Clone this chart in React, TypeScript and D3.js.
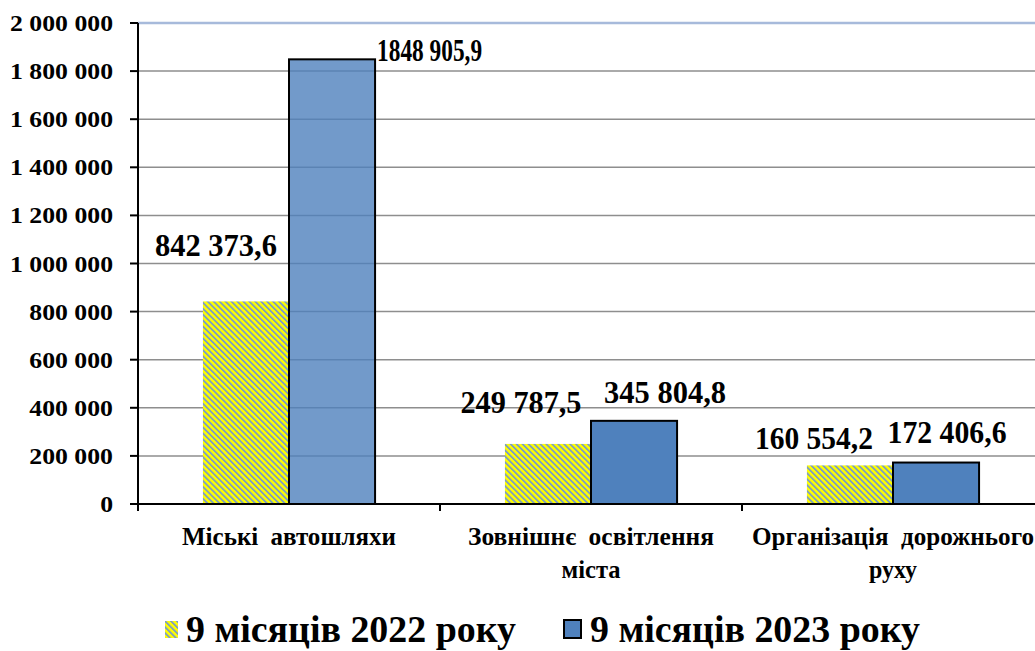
import React from "react";
import * as d3 from "d3";

const categories: string[][] = [
  ["Міські автошляхи"],
  ["Зовнішнє освітлення", "міста"],
  ["Організація дорожнього", "руху"],
];
const series2022: number[] = [842373.6, 249787.5, 160554.2];
const series2023: number[] = [1848905.9, 345804.8, 172406.6];
const labels2022: string[] = ["842 373,6", "249 787,5", "160 554,2"];
const labels2023: string[] = ["1848 905,9", "345 804,8", "172 406,6"];
const yTicks: number[] = [0, 200000, 400000, 600000, 800000, 1000000, 1200000, 1400000, 1600000, 1800000, 2000000];
const seriesNames: string[] = ["9 місяців 2022 року", "9 місяців 2023 року"];

const fmtTick = (v: number) => {
  if (v === 0) return "0";
  const s = String(v);
  return s.replace(/\B(?=(\d{3})+(?!\d))/g, " ");
};

export default function App() {
  const W = 1035, H = 651;
  const left = 138, right = 1044, top = 23, bottom = 504;
  const y = d3.scaleLinear().domain([0, 2000000]).range([bottom, top]);
  const x0 = d3.scaleBand<number>().domain(categories.map((_, i) => i)).range([left, right]).padding(0);
  const bw = x0.bandwidth();
  const x1 = d3.scaleBand<number>().domain([0, 1]).range([bw * 0.215, bw * 0.785]).padding(0);

  // label placement (dx from bar center, dy from bar top)
  const lab22 = [
    { dx: -30, dy: -45, len: 122 },
    { dx: -27, dy: -31, len: 121 },
    { dx: -36, dy: -16, len: 118 },
  ];
  const lab23 = [
    { dx: 0, dy: 0, len: 105, rightOf: true },
    { dx: 31, dy: -18, len: 122 },
    { dx: 11, dy: -20, len: 119 },
  ];

  const catLayout = [
    { lens: [214] },
    { lens: [246, 59] },
    { lens: [282, 48] },
  ];

  const fontStyle = { fontFamily: "'Liberation Serif', 'Times New Roman', Times, serif", fontWeight: 700 } as const;

  return (
    <svg width={W} height={H} style={{ position: "absolute", left: 0, top: 0, background: "#fff" }}>
      <defs>
        <pattern id="hatch" width="4.2" height="4.2" patternUnits="userSpaceOnUse" patternTransform="rotate(-45)">
          <rect width="4.2" height="4.2" fill="#FFFF00" />
          <rect width="1.8" height="4.2" fill="#7A9CC6" />
        </pattern>
      </defs>

      {/* gridlines */}
      {yTicks.filter((t) => t > 0).map((t) => (
        <line key={t} x1={left} x2={W} y1={y(t)} y2={y(t)}
          stroke={t === 2000000 ? "#A7BADB" : "#8E8E8E"} strokeWidth={t === 2000000 ? 2.5 : 1.5} />
      ))}

      {/* bars */}
      {categories.map((_, i) => {
        const bx = x0(i)!;
        return (
          <g key={i}>
            <rect x={bx + x1(0)!} y={y(series2022[i])} width={x1.bandwidth()} height={bottom - y(series2022[i])}
              fill="url(#hatch)" />
            <rect x={bx + x1(1)!} y={y(series2023[i])} width={x1.bandwidth()} height={bottom - y(series2023[i])}
              fill="#4F81BD" fillOpacity={i === 0 ? 0.8 : 1} stroke="#000" strokeWidth={2} />
          </g>
        );
      })}

      {/* axes */}
      <line x1={left} x2={left} y1={top} y2={511} stroke="#000" strokeWidth={2} />
      <line x1={left} x2={W} y1={bottom} y2={bottom} stroke="#000" strokeWidth={2} />
      {yTicks.map((t) => (
        <line key={"t" + t} x1={130} x2={left} y1={y(t)} y2={y(t)} stroke="#000" strokeWidth={2} />
      ))}
      {categories.map((_, i) => (
        <line key={"xt" + i} x1={x0(i)!} x2={x0(i)!} y1={bottom} y2={511} stroke="#000" strokeWidth={2} />
      ))}

      <g style={fontStyle} fill="#000">
        {/* y tick labels */}
        {yTicks.map((t) => (
          <g key={"yl" + t} transform={`translate(113,${y(t) + 8}) scale(1.12,1)`}>
            <text x={0} y={0} textAnchor="end" fontSize={23}>
              {fmtTick(t)}
            </text>
          </g>
        ))}

        {/* data labels */}
        {categories.map((_, i) => {
          const bx = x0(i)!;
          const c22 = bx + x1(0)! + x1.bandwidth() / 2;
          const c23 = bx + x1(1)! + x1.bandwidth() / 2;
          const l22 = lab22[i], l23 = lab23[i];
          return (
            <g key={"dl" + i} fontSize={32}>
              <text x={c22 + l22.dx} y={y(series2022[i]) + l22.dy} textAnchor="middle"
                textLength={l22.len} lengthAdjust="spacingAndGlyphs">{labels2022[i]}</text>
              {l23.rightOf ? (
                <text x={bx + x1(1)! + x1.bandwidth() + 2} y={y(series2023[i]) + 2} textAnchor="start"
                  textLength={l23.len} lengthAdjust="spacingAndGlyphs">{labels2023[i]}</text>
              ) : (
                <text x={c23 + l23.dx} y={y(series2023[i]) + l23.dy} textAnchor="middle"
                  textLength={l23.len} lengthAdjust="spacingAndGlyphs">{labels2023[i]}</text>
              )}
            </g>
          );
        })}

        {/* category labels */}
        {categories.map((lines, i) => (
          <g key={"cl" + i}>
            {lines.map((ln, j) => (
              <text key={j} x={x0(i)! + bw / 2} y={545 + j * 33} textAnchor="middle"
                fontSize={25} wordSpacing={6}
                textLength={catLayout[i].lens[j]} lengthAdjust="spacingAndGlyphs">{ln}</text>
            ))}
          </g>
        ))}

        {/* legend */}
        <rect x={165} y={621} width={13} height={17} fill="url(#hatch)" />
        <text x={186} y={642} fontSize={38}
          textLength={330} lengthAdjust="spacingAndGlyphs">{seriesNames[0]}</text>
        <rect x={564} y={620} width={17} height={18} fill="#4F81BD" stroke="#000" strokeWidth={2} />
        <text x={590} y={642} fontSize={38}
          textLength={330} lengthAdjust="spacingAndGlyphs">{seriesNames[1]}</text>
      </g>
    </svg>
  );
}
